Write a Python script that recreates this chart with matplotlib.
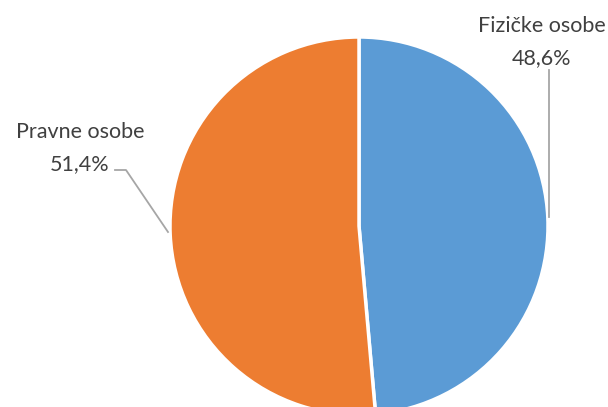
import matplotlib.pyplot as plt

labels = ["Fizičke osobe", "Pravne osobe"]
values = [48.6, 51.4]
colors = ["#5B9BD5", "#ED7D31"]

W, H = 608, 407
fig = plt.figure(figsize=(W / 100, H / 100), dpi=100)
ax = fig.add_axes([0, 0, 1, 1])

cx, cy, r = 359, H - 226, 189
ax.pie(values, colors=colors, startangle=90, counterclock=False,
       center=(cx, cy), radius=r, frame=True,
       wedgeprops=dict(edgecolor="white", linewidth=2.5))
ax.set_xlim(0, W)
ax.set_ylim(0, H)
ax.set_aspect("equal")
ax.axis("off")

txt = dict(color="#404040", fontsize=15.5, family=["Lato", "DejaVu Sans"],
           ha="center", va="center", linespacing=1.75)
line = dict(color="#A6A6A6", linewidth=1.3)

# Fizičke osobe
ax.text(542, H - 42.5, f"{labels[0]}\n{values[0]:.1f}%".replace(".", ","), **txt)
ax.plot([549, 549], [H - 70, H - 217], **line)

# Pravne osobe
ax.text(80, H - 148.5, f"{labels[1]}\n{values[1]:.1f}%".replace(".", ","), **txt)
ax.plot([115, 126, 168], [H - 170, H - 170, H - 232], **line)

fig.savefig("out.png", dpi=100)
